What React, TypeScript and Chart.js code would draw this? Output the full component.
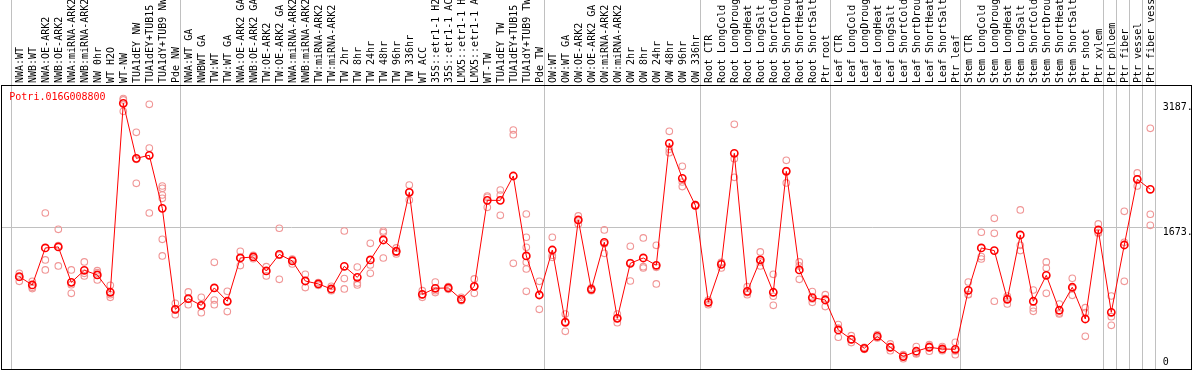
import { useEffect, useRef } from 'react';
import { Chart, registerables } from 'chart.js';

Chart.register(...registerables);

const geneId = 'Potri.016G008800';

const categories = [
  'NWA:WT', 'NWB:WT', 'NWA:OE-ARK2', 'NWB:OE-ARK2', 'NWA:miRNA-ARK2', 'NWB:miRNA-ARK2',
  'NW 0hr', 'WT H2O', 'WT-NW', 'TUA1dEY NW', 'TUA1dEY+TUB15 NW', 'TUA1dY+TUB9 NW', 'Pde NW',
  'NWA:WT GA', 'NWBWT GA', 'TW:WT', 'TW:WT GA', 'NWA:OE-ARK2 GA', 'NWB:OE-ARK2 GA',
  'TW:OE-ARK2', 'TW:OE-ARK2 GA', 'NWA:miRNA-ARK2 GA', 'NWB:miRNA-ARK2 GA', 'TW:miRNA-ARK2',
  'TW:miRNA-ARK2 GA', 'TW 2hr', 'TW 8hr', 'TW 24hr', 'TW 48hr', 'TW 96hr', 'TW 336hr',
  'WT ACC', '35S::etr1-1 H2O', '35S::etr1-1 ACC', 'LMX5::etr1-1 H2O', 'LMX5::etr1-1 ACC',
  'WT-TW', 'TUA1dEY TW', 'TUA1dEY+TUB15 TW', 'TUA1dY+TUB9 TW', 'Pde TW',
  'OW:WT', 'OW:WT GA', 'OW:OE-ARK2', 'OW:OE-ARK2 GA', 'OW:miRNA-ARK2', 'OW:miRNA-ARK2 GA',
  'OW 2hr', 'OW 8hr', 'OW 24hr', 'OW 48hr', 'OW 96hr', 'OW 336hr',
  'Root CTR', 'Root LongCold', 'Root LongDrought', 'Root LongHeat', 'Root LongSalt',
  'Root ShortCold', 'Root ShortDrought', 'Root ShortHeat', 'Root ShortSalt', 'Ptr root',
  'Leaf CTR', 'Leaf LongCold', 'Leaf LongDrought', 'Leaf LongHeat', 'Leaf LongSalt',
  'Leaf ShortCold', 'Leaf ShortDrought', 'Leaf ShortHeat', 'Leaf ShortSalt', 'Ptr leaf',
  'Stem CTR', 'Stem LongCold', 'Stem LongDrought', 'Stem LongHeat', 'Stem LongSalt',
  'Stem ShortCold', 'Stem ShortDrought', 'Stem ShortHeat', 'Stem ShortSalt', 'Ptr shoot',
  'Ptr xylem', 'Ptr phloem', 'Ptr fiber', 'Ptr vessel', 'Ptr fiber vessel',
];

const groupSizes = [13, 28, 12, 10, 10, 11, 1, 1, 1, 1];

const meanValues = [
  1088, 990, 1426, 1438, 1021, 1163, 1108, 904, 3130, 2482, 2518, 1893, 703,
  829, 750, 955, 798, 1308, 1320, 1155, 1351, 1273, 1037, 1002, 943, 1210, 1080,
  1285, 1520, 1387, 2082, 880, 951, 955, 821, 974, 1987, 1987, 2274, 1332, 872,
  1402, 550, 1756, 939, 1493, 597, 1245, 1308, 1222, 2659, 2247, 1929,
  786, 1233, 2541, 915, 1285, 904, 2329, 1167, 841, 813,
  460, 350, 244, 385, 256, 146, 209, 256, 236, 232,
  927, 1426, 1395, 821, 1579, 798, 1104, 692, 963, 589, 1638,
  668, 1461, 2235, 2117,
];

const replicateValues = [
  [1127, 1080, 1033], [1033, 963, 947], [1838, 1285, 1167], [1646, 1214, 1453],
  [1167, 994, 892], [1261, 1127, 1096], [1159, 1135, 1049], [986, 876, 845],
  [3187, 3170, 3036], [2789, 2188, 2470], [3118, 2604, 1838],
  [2156, 2129, 2050, 2011, 1528, 1332], [774, 640, 695],
  [908, 758, 821], [845, 664, 743], [1257, 813, 758], [915, 676, 801],
  [1387, 1218, 1308], [1340, 1320, 1300], [1206, 1096, 1155], [1658, 1057, 1340],
  [1285, 1237, 1296], [1116, 959, 1037], [1018, 986, 1002], [974, 923, 931],
  [1626, 1065, 943], [1202, 1014, 990], [1481, 1226, 1127], [1626, 1607, 1308],
  [1426, 1355, 1375], [2168, 1991, 2082], [923, 845, 876], [1025, 900, 923],
  [970, 939, 955], [845, 805, 813], [1061, 892, 970], [2038, 2023, 1905],
  [2109, 2050, 1811], [2816, 2761, 1245], [1826, 1552, 1434, 1257, 1178, 915],
  [1033, 703, 876],
  [1552, 1316, 1340], [648, 444, 558], [1803, 1709, 1756], [955, 923, 939],
  [1638, 1363, 1477], [648, 546, 597], [1446, 1037, 1253], [1544, 1206, 1190],
  [1457, 1198, 1002], [2800, 2588, 2549], [2388, 2149, 2203], [1936, 1921, 1929],
  [813, 758, 786], [1253, 1190, 1257], [2883, 2478, 2258], [970, 876, 900],
  [1379, 1214, 1261], [1116, 857, 750], [2459, 2192, 2337], [1261, 1214, 1057],
  [912, 786, 825], [876, 735, 829],
  [523, 374, 483], [393, 311, 346], [256, 232, 244], [405, 366, 385],
  [295, 216, 256], [169, 122, 146], [264, 177, 185], [287, 209, 271],
  [264, 216, 228], [315, 169, 213],
  [1025, 876, 880], [1611, 1324, 1296], [1775, 1599, 798], [860, 766, 837],
  [1874, 1457, 1395], [931, 719, 680], [1261, 1190, 892], [766, 648, 660],
  [1069, 868, 951], [723, 664, 385], [1709, 1599, 1607],
  [860, 617, 515], [1858, 1033, 1493], [2310, 2156, 2239], [2836, 1823, 1693],
];

const yTickValues = [0, 1673, 3187];
const yMax = 3346;

const FONT = '"DejaVu Sans Mono", "Liberation Mono", monospace';
const SEP_OFFSET = 0.66;

const decorPlugin = {
  id: 'decor',
  beforeDatasetsDraw(chart: any) {
    const { ctx, chartArea, scales } = chart;
    const xs = scales.x;
    const ys = scales.y;
    ctx.save();
    ctx.strokeStyle = '#c0c0c0';
    ctx.lineWidth = 1;
    const bounds = [0];
    let acc = 0;
    groupSizes.forEach((s) => { acc += s; bounds.push(acc); });
    bounds.forEach((b) => {
      const px = Math.round(xs.getPixelForValue(b - SEP_OFFSET)) + 0.5;
      ctx.beginPath();
      ctx.moveTo(px, 0);
      ctx.lineTo(px, chartArea.bottom);
      ctx.stroke();
    });
    const labelX = xs.getPixelForValue(categories.length - SEP_OFFSET) + 8;
    const gy = Math.round(ys.getPixelForValue(yTickValues[1])) + 0.5;
    ctx.beginPath();
    ctx.moveTo(chartArea.left, gy);
    ctx.lineTo(labelX, gy);
    ctx.stroke();
    ctx.restore();
  },
  afterDraw(chart: any) {
    const { ctx, chartArea, scales } = chart;
    const xs = scales.x;
    const ys = scales.y;
    ctx.save();
    ctx.strokeStyle = '#000';
    ctx.lineWidth = 1;
    ctx.strokeRect(chartArea.left + 0.5, chartArea.top + 0.5,
      chartArea.right - chartArea.left - 1, chartArea.bottom - chartArea.top);
    ctx.font = '10px ' + FONT;
    ctx.fillStyle = '#ff0000';
    ctx.textBaseline = 'middle';
    ctx.textAlign = 'left';
    ctx.fillText(geneId, chartArea.left + 8.3, chartArea.top + 12);
    ctx.fillStyle = '#000';
    const labelX = xs.getPixelForValue(categories.length - SEP_OFFSET) + 8;
    yTickValues.forEach((v, k) => {
      let y = ys.getPixelForValue(v) + 5;
      y = Math.max(y, chartArea.top + 22);
      y = Math.min(y, chartArea.bottom - 7);
      const txt = k === 0 ? String(v) : v + '.';
      ctx.fillText(txt, labelX, y);
    });
    ctx.restore();
  },
};

export default function App() {
  const canvasRef = useRef<HTMLCanvasElement | null>(null);

  useEffect(() => {
    document.body.style.margin = '0';
    const canvas = canvasRef.current;
    if (!canvas) return;

    const meanData = meanValues.map((v, i) => ({ x: i, y: v }));
    const repData = replicateValues.flatMap((reps, i) => reps.map((v) => ({ x: i, y: v })));

    const chart = new Chart(canvas, {
      type: 'scatter',
      data: {
        datasets: [
          {
            label: 'mean',
            data: meanData,
            showLine: true,
            borderColor: '#ff0000',
            borderWidth: 1,
            pointRadius: 3.6,
            pointBorderWidth: 1.6,
            pointBorderColor: '#ff0000',
            pointBackgroundColor: 'rgba(0,0,0,0)',
            tension: 0,
            order: 0,
          } as any,
          {
            label: 'replicates',
            data: repData,
            showLine: false,
            pointRadius: 3.3,
            pointBorderWidth: 1.1,
            pointBorderColor: '#f09696',
            pointBackgroundColor: 'rgba(0,0,0,0)',
            order: 1,
          } as any,
        ],
      },
      options: {
        animation: false,
        responsive: false,
        devicePixelRatio: 1,
        layout: { autoPadding: false, padding: { left: 1, right: 2, top: 0, bottom: 1 } },
        plugins: { legend: { display: false }, tooltip: { enabled: false }, title: { display: false } },
        scales: {
          x: {
            type: 'linear',
            position: 'top',
            min: -1.408,
            max: 90.208,
            grid: { display: false, drawTicks: false },
            border: { display: false },
            afterBuildTicks: (scale: any) => {
              scale.ticks = categories.map((_, i) => ({ value: i }));
            },
            afterFit: (scale: any) => { scale.height = 85; },
            ticks: {
              autoSkip: false,
              minRotation: 90,
              maxRotation: 90,
              padding: 2,
              labelOffset: 12.7,
              color: '#000',
              font: { family: FONT, size: 10 },
              callback: (value: any) => categories[value as number] ?? '',
            },
          },
          y: {
            type: 'linear',
            display: false,
            min: 0,
            max: yMax,
          },
        },
      },
      plugins: [decorPlugin],
    } as any);

    return () => chart.destroy();
  }, []);

  return (
    <div style={{ width: 1194, height: 370 }}>
      <canvas ref={canvasRef} width={1194} height={370} style={{ display: 'block' }} />
    </div>
  );
}
